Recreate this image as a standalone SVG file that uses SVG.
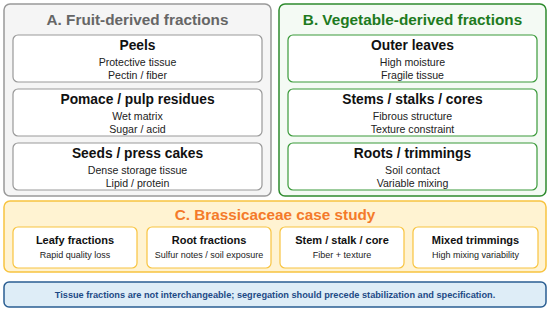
<svg xmlns="http://www.w3.org/2000/svg" width="550" height="312" viewBox="0 0 550 312">
<style>
text{font-family:"Liberation Sans",Arial,sans-serif;text-anchor:middle}
.pt{font-size:15.3px;font-weight:bold}
.bt{font-size:13.8px;font-weight:bold;fill:#111}
.bs{font-size:10.6px;fill:#222}
.ct{font-size:11px;font-weight:bold;fill:#111}
.cs{font-size:9px;fill:#222}
.ib{fill:#fff;stroke-width:1.2}
</style>
<rect width="550" height="312" fill="#fff"/>
<g id="panelA">
<rect x="4" y="4" width="267" height="192" rx="6" fill="#f5f5f5" stroke="#999" stroke-width="1.5"/>
<text x="137.5" y="25" class="pt" fill="#666">A. Fruit-derived fractions</text>
</g>
<g id="peels"><rect x="13" y="35" width="249" height="47" rx="5" class="ib" stroke="#999"/>
<text x="137.5" y="50" class="bt">Peels</text><text x="137.5" y="66" class="bs">Protective tissue</text><text x="137.5" y="79" class="bs">Pectin / fiber</text></g>
<g id="pomace"><rect x="13" y="89" width="249" height="47" rx="5" class="ib" stroke="#999"/>
<text x="137.5" y="104" class="bt">Pomace / pulp residues</text><text x="137.5" y="120" class="bs">Wet matrix</text><text x="137.5" y="133" class="bs">Sugar / acid</text></g>
<g id="seeds"><rect x="13" y="143" width="249" height="47" rx="5" class="ib" stroke="#999"/>
<text x="137.5" y="158" class="bt">Seeds / press cakes</text><text x="137.5" y="174" class="bs">Dense storage tissue</text><text x="137.5" y="187" class="bs">Lipid / protein</text></g>
<g id="panelB">
<rect x="279" y="4" width="267" height="192" rx="6" fill="#f4faf4" stroke="#2e8b2e" stroke-width="1.5"/>
<text x="412.5" y="25" class="pt" fill="#1e7a1e">B. Vegetable-derived fractions</text>
</g>
<g id="outer"><rect x="288" y="35" width="249" height="47" rx="5" class="ib" stroke="#3a9a3a"/>
<text x="412.5" y="50" class="bt">Outer leaves</text><text x="412.5" y="66" class="bs">High moisture</text><text x="412.5" y="79" class="bs">Fragile tissue</text></g>
<g id="stems"><rect x="288" y="89" width="249" height="47" rx="5" class="ib" stroke="#3a9a3a"/>
<text x="412.5" y="104" class="bt">Stems / stalks / cores</text><text x="412.5" y="120" class="bs">Fibrous structure</text><text x="412.5" y="133" class="bs">Texture constraint</text></g>
<g id="roots"><rect x="288" y="143" width="249" height="47" rx="5" class="ib" stroke="#3a9a3a"/>
<text x="412.5" y="158" class="bt">Roots / trimmings</text><text x="412.5" y="174" class="bs">Soil contact</text><text x="412.5" y="187" class="bs">Variable mixing</text></g>
<g id="panelC">
<rect x="4" y="201" width="542" height="71" rx="6" fill="#fff3d2" stroke="#f8c440" stroke-width="1.5"/>
<text x="275" y="220" class="pt" fill="#f47a2a">C. Brassicaceae case study</text>
</g>
<g id="leafy"><rect x="13" y="227" width="124" height="41" rx="5" class="ib" stroke="#f8c440"/>
<text x="75" y="244" class="ct">Leafy fractions</text><text x="75" y="258" class="cs">Rapid quality loss</text></g>
<g id="rootf"><rect x="147" y="227" width="124" height="41" rx="5" class="ib" stroke="#f8c440"/>
<text x="209" y="244" class="ct">Root fractions</text><text x="209" y="258" class="cs">Sulfur notes / soil exposure</text></g>
<g id="stem"><rect x="280" y="227" width="124" height="41" rx="5" class="ib" stroke="#f8c440"/>
<text x="342" y="244" class="ct">Stem / stalk / core</text><text x="342" y="258" class="cs">Fiber + texture</text></g>
<g id="mixed"><rect x="413" y="227" width="125" height="41" rx="5" class="ib" stroke="#f8c440"/>
<text x="475.5" y="244" class="ct">Mixed trimmings</text><text x="475.5" y="258" class="cs">High mixing variability</text></g>
<g id="banner"><rect x="4" y="282" width="542" height="25" rx="5" fill="#deedf7" stroke="#2a5e92" stroke-width="1.5"/>
<text x="275" y="298" font-size="9.2px" font-weight="bold" fill="#1d4a86">Tissue fractions are not interchangeable; segregation should precede stabilization and specification.</text></g>
<g id="connectors"></g>
</svg>
